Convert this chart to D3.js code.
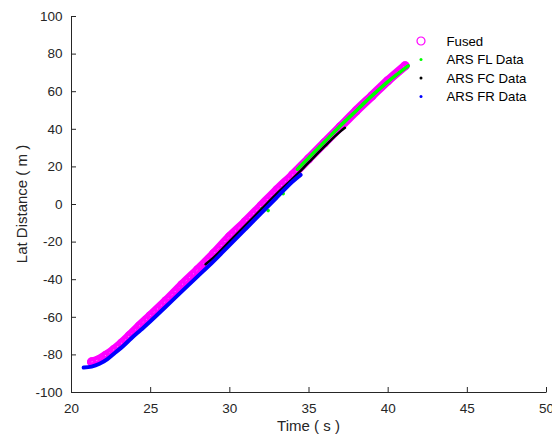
<!DOCTYPE html>
<html>
<head>
<meta charset="utf-8">
<script src="https://cdn.jsdelivr.net/npm/d3@7"></script>
<style>
  body { margin: 0; background: #fff; }
  svg { display: block; font-family: "Liberation Sans", Arial, sans-serif; }
  .axis path, .axis line { stroke: #262626; }
  .axis text { fill: #262626; font-size: 13.5px; font-family: "Liberation Sans", Arial, sans-serif; }
</style>
</head>
<body>
<svg id="chart" width="552" height="436"></svg>
<script>
// fused track (magenta circles)
const fusedTime = [21.3, 21.7, 22.2, 22.7, 23.2, 23.7, 24.3, 25.0, 26.0, 27.0, 28.0, 29.0, 30.0, 31.0, 32.0, 33.0, 34.0, 35.0, 36.0, 37.0, 38.0, 39.0, 40.0, 41.1];
const fusedLat = [-84, -83, -80.5, -77.5, -74, -70, -65, -59.5, -51.5, -43, -35, -26.5, -17.5, -9.5, -1, 7.5, 15.5, 24, 32.5, 41, 49.5, 57.5, 65.5, 73.5];

// radar FL (green)
const flTime = [34.3, 35.0, 36.0, 37.0, 38.0, 39.0, 40.0, 41.3];
const flLat = [18.5, 24.5, 33, 41.5, 49.5, 57.5, 65, 73.5];
const flDotTime = [32.05, 32.45, 33.4];
const flDotLat = [-2.5, -3.5, 5.5];

// radar FC (black)
const fcTime = [28.5, 29.0, 30.0, 31.0, 32.0, 33.0, 34.0, 35.0, 36.0, 37.0, 37.3];
const fcLat = [-32, -28.5, -20, -11.5, -3, 5.5, 13.5, 22, 30.5, 38.5, 40.5];

// radar FR (blue)
const frTime = [20.8, 21.3, 21.8, 22.3, 22.8, 23.3, 23.8, 24.4, 25.0, 26.0, 27.0, 28.0, 29.0, 30.0, 31.0, 32.0, 33.0, 34.0, 34.5];
const frLat = [-87, -86.5, -85, -82.5, -79, -75.5, -71.5, -67, -62.5, -54.5, -46.5, -38.5, -30.5, -22, -13.5, -5, 3.5, 12, 15.5];

const xTicks = [20, 25, 30, 35, 40, 45, 50];
const yTicks = [-100, -80, -60, -40, -20, 0, 20, 40, 60, 80, 100];
const legendNames = ["Fused", "ARS FL Data", "ARS FC Data", "ARS FR Data"];
const legendColors = ["#ff00ff", "#00ff00", "#000000", "#0000ff"];

const svg = d3.select("#chart");

const x = d3.scaleLinear().domain([20, 50]).range([71, 546]);
const y = d3.scaleLinear().domain([-100, 100]).range([392, 16]);

const zip = (ts, vs) => ts.map((t, i) => [t, vs[i]]);

const line = d3.line()
  .x(d => x(d[0]))
  .y(d => y(d[1]))
  .curve(d3.curveMonotoneX);

// fused band + circle markers
const fused = zip(fusedTime, fusedLat);
svg.append("path")
  .datum(fused)
  .attr("d", line)
  .attr("fill", "none")
  .attr("stroke", "#ff00ff")
  .attr("stroke-width", 9)
  .attr("stroke-linecap", "round");
svg.append("path")
  .datum(fused)
  .attr("d", line)
  .attr("fill", "none")
  .attr("stroke", "#f7a8f7")
  .attr("stroke-width", 1)
  .attr("stroke-dasharray", "1 4");
svg.selectAll(".fused")
  .data(fused)
  .enter().append("circle")
  .attr("class", "fused")
  .attr("cx", d => x(d[0]))
  .attr("cy", d => y(d[1]))
  .attr("r", 4)
  .attr("fill", "none")
  .attr("stroke", "#ff00ff")
  .attr("stroke-width", 1.2);

// radar tracks, drawn in plot order
const tracks = [
  { pts: zip(flTime, flLat), color: "#00ff00", width: 3.5 },
  { pts: zip(fcTime, fcLat), color: "#000000", width: 2.5 },
  { pts: zip(frTime, frLat), color: "#0000ff", width: 4 }
];
svg.selectAll(".fldot")
  .data(zip(flDotTime, flDotLat))
  .enter().append("circle")
  .attr("class", "fldot")
  .attr("cx", d => x(d[0]))
  .attr("cy", d => y(d[1]))
  .attr("r", 1.8)
  .attr("fill", "#00ff00");
tracks.forEach(tr => {
  svg.append("path")
    .datum(tr.pts)
    .attr("d", line)
    .attr("fill", "none")
    .attr("stroke", tr.color)
    .attr("stroke-width", tr.width)
    .attr("stroke-linecap", "round");
});

// axes (ticks point inward, no box); plain hyphen for negatives
const fmt = d => String(d);

svg.append("g")
  .attr("class", "axis")
  .attr("transform", `translate(0, ${y(-100)})`)
  .call(d3.axisBottom(x).tickValues(xTicks).tickFormat(fmt).tickSizeInner(-5).tickSizeOuter(0).tickPadding(11));

svg.append("g")
  .attr("class", "axis")
  .attr("transform", `translate(${x(20)}, 0)`)
  .call(d3.axisLeft(y).tickValues(yTicks).tickFormat(fmt).tickSizeInner(-5).tickSizeOuter(0).tickPadding(8.5));

svg.selectAll(".axis").attr("font-size", null).attr("font-family", null);

// axis titles
svg.append("text")
  .attr("x", (x(20) + x(50)) / 2)
  .attr("y", 431)
  .attr("text-anchor", "middle")
  .attr("fill", "#262626")
  .attr("font-size", 15)
  .text("Time ( s )");

svg.append("text")
  .attr("transform", `translate(27, ${(y(-100) + y(100)) / 2}) rotate(-90)`)
  .attr("text-anchor", "middle")
  .attr("fill", "#262626")
  .attr("font-size", 15)
  .text("Lat Distance ( m )");

// legend, no frame
const legend = svg.append("g").attr("transform", "translate(421, 41)");
legendNames.forEach((name, i) => {
  const row = legend.append("g").attr("transform", `translate(0, ${i * 18.5})`);
  if (i === 0) {
    row.append("circle").attr("r", 4).attr("fill", "none")
      .attr("stroke", legendColors[i]).attr("stroke-width", 1.2);
  } else {
    row.append("circle").attr("r", 1.5).attr("fill", legendColors[i]);
  }
  row.append("text")
    .attr("x", 25.5)
    .attr("dy", "0.35em")
    .attr("font-size", 13.2)
    .attr("fill", "#000")
    .text(name);
});
</script>
</body>
</html>
